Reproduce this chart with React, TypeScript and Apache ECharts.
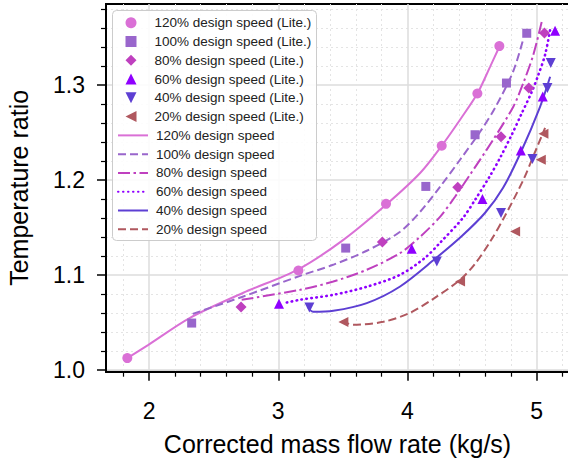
import React, { useEffect, useRef } from "react";
import * as echarts from "echarts";

// ---- axis ticks ----
const xMajorTicks = [2, 3, 4, 5];
const xMinorTicks = [1.8, 2.2, 2.4, 2.6, 2.8, 3.2, 3.4, 3.6, 3.8, 4.2, 4.4, 4.6, 4.8, 5.2];
const yMajorTicks = [1.0, 1.1, 1.2, 1.3];
const yMinorTicks = [1.02, 1.04, 1.06, 1.08, 1.12, 1.14, 1.16, 1.18, 1.22, 1.24, 1.26, 1.28, 1.32, 1.34, 1.36, 1.38];

// ---- measured points (Lite.) ----
const x120Pts = [1.832, 3.156, 3.834, 4.265, 4.541, 4.711];
const y120Pts = [1.0123, 1.1045, 1.1747, 1.2358, 1.2908, 1.3407];
const x100Pts = [2.33, 3.522, 4.142, 4.523, 4.766, 4.923];
const y100Pts = [1.0492, 1.1281, 1.193, 1.2474, 1.3018, 1.3542];
const x80Pts = [2.712, 3.806, 4.389, 4.724, 4.939, 5.06];
const y80Pts = [1.066, 1.1344, 1.192, 1.2453, 1.2965, 1.3544];
const x60Pts = [3.006, 4.033, 4.58, 4.877, 5.047, 5.142];
const y60Pts = [1.0695, 1.1274, 1.1797, 1.2308, 1.2877, 1.3568];
const x40Pts = [3.241, 4.227, 4.724, 4.967, 5.083, 5.109];
const y40Pts = [1.0656, 1.114, 1.165, 1.2218, 1.2965, 1.3228];
const x20Pts = [3.504, 4.407, 4.833, 5.032, 5.052];
const y20Pts = [1.0502, 1.0929, 1.1456, 1.2211, 1.2484];

// ---- model curves ----
const x120Line = [1.832, 1.995, 2.317, 2.73, 3.156, 3.504, 3.834, 4.098, 4.265, 4.407, 4.541, 4.639, 4.711];
const y120Line = [1.0123, 1.0263, 1.0547, 1.0811, 1.1058, 1.1368, 1.1737, 1.2071, 1.2358, 1.2632, 1.2908, 1.3189, 1.34];
const x100Line = [2.338, 2.73, 3.169, 3.424, 3.685, 3.943, 4.098, 4.252, 4.407, 4.562, 4.678, 4.817, 4.895];
const y100Line = [1.0589, 1.0772, 1.0989, 1.1105, 1.1253, 1.1453, 1.1663, 1.1926, 1.2211, 1.2505, 1.2758, 1.3137, 1.3474];
const x80Line = [2.717, 3.169, 3.426, 3.685, 3.943, 4.098, 4.252, 4.368, 4.484, 4.663, 4.82, 4.897, 4.974, 5.039];
const y80Line = [1.0737, 1.0842, 1.0929, 1.1053, 1.1228, 1.14, 1.161, 1.1821, 1.2053, 1.2421, 1.2772, 1.3021, 1.3316, 1.3663];
const x60Line = [3.066, 3.169, 3.426, 3.685, 3.943, 4.136, 4.252, 4.43, 4.523, 4.639, 4.717, 4.807, 4.879, 4.962, 5.013, 5.065, 5.104];
const y60Line = [1.0708, 1.0737, 1.0789, 1.0874, 1.1, 1.1179, 1.1337, 1.16, 1.1789, 1.2042, 1.2232, 1.2474, 1.2684, 1.2926, 1.3105, 1.3316, 1.3579];
const x40Line = [3.227, 3.269, 3.426, 3.685, 3.943, 4.214, 4.423, 4.601, 4.74, 4.879, 5.026, 5.104];
const y40Line = [1.0663, 1.0611, 1.0621, 1.0702, 1.0877, 1.1168, 1.1411, 1.1653, 1.1916, 1.2295, 1.2768, 1.3084];
const x20Line = [3.491, 3.581, 3.813, 4.02, 4.2, 4.407, 4.523, 4.639, 4.755, 4.897, 4.972, 5.065];
const y20Line = [1.0516, 1.0474, 1.0505, 1.06, 1.0747, 1.0947, 1.1116, 1.1347, 1.1621, 1.2, 1.2242, 1.2547];

const speeds = ["120%", "100%", "80%", "60%", "40%", "20%"];
const colors = ["#DA70D6", "#9966CC", "#BF40BF", "#8F00FF", "#5D3FD3", "#B0585F"];
const symbols = ["circle", "rect", "diamond", "triangle", "triangle", "triangle"];
const symbolRotates = [0, 0, 0, 0, 180, 90];
const symbolSizes = [10, 9, 11, 10, 10, 10];
const legendIcons = [
  "path://M5,1A4.5,4.5,0,1,1,4.99,1Z",
  "path://M1,1L9.5,1L9.5,9.5L1,9.5Z",
  "path://M5.5,0L11,5.5L5.5,11L0,5.5Z",
  "path://M5,0L10,10L0,10Z",
  "path://M0,0L10,0L5,10Z",
  "path://M10,0L10,10L0,5Z",
];
const lineTypes: any[] = ["solid", [8, 4], [12, 3.5, 2.5, 3.5], [0.5, 4.5], "solid", [8, 4]];

const ptsX = [x120Pts, x100Pts, x80Pts, x60Pts, x40Pts, x20Pts];
const ptsY = [y120Pts, y100Pts, y80Pts, y60Pts, y40Pts, y20Pts];
const lineX = [x120Line, x100Line, x80Line, x60Line, x40Line, x20Line];
const lineY = [y120Line, y100Line, y80Line, y60Line, y40Line, y20Line];

const zip = (a: number[], b: number[]) => a.map((v, i) => [v, b[i]]);

const FONT = "Liberation Sans, Arial, Helvetica, sans-serif";

export default function App() {
  const ref = useRef<HTMLDivElement>(null);
  useEffect(() => {
    if (!ref.current) return;
    const chart = echarts.init(ref.current, null, { renderer: "svg" });
    const xMin = 1.667, xMax = 5.25, yMin = 0.998, yMax = 1.385;

    const scatterSeries = speeds.map((s, i) => ({
      type: "scatter",
      name: `${s} design speed (Lite.)`,
      data: zip(ptsX[i], ptsY[i]),
      symbol: symbols[i],
      symbolSize: symbolSizes[i],
      symbolRotate: symbolRotates[i],
      itemStyle: { color: colors[i], opacity: 1 },
      z: 4,
      silent: true,
    }));
    const lineSeries = speeds.map((s, i) => ({
      type: "line",
      name: `${s} design speed`,
      data: zip(lineX[i], lineY[i]),
      smooth: 0.3,
      symbol: "none",
      showSymbol: false,
      lineStyle: {
        color: colors[i],
        width: i === 3 ? 2.6 : 2,
        type: lineTypes[i],
        cap: i === 3 ? "round" : "butt",
      },
      itemStyle: { color: colors[i] },
      z: 3,
      silent: true,
    }));

    const rowStep = 18.78;
    const firstCenter = 22.7;
    const rowH = 14;

    chart.setOption({
      animation: false,
      textStyle: { fontFamily: FONT },
      grid: {
        left: 106,
        top: 4,
        width: 463,
        height: 367.7,
        show: true,
        borderColor: "#000",
        borderWidth: 2,
        backgroundColor: "#fff",
        outerBoundsMode: "none",
        containLabel: false,
      },
      graphic: [
        {
          type: "rect",
          z: 50,
          shape: { x: 112.5, y: 10.5, width: 204, height: 230, r: 4 },
          style: { fill: "rgba(255,255,255,0.88)", stroke: "#cccccc", lineWidth: 1 },
          silent: true,
        },
      ],
      legend: [
        {
          data: speeds.map((s, i) => ({ name: `${s} design speed (Lite.)`, icon: legendIcons[i] })),
          orient: "vertical",
          left: 125.5,
          top: firstCenter - rowH / 2,
          padding: 0,
          itemWidth: 11,
          itemHeight: 11,
          itemGap: rowStep - rowH,
          selectedMode: false,
          textStyle: { fontFamily: FONT, fontSize: 13.5, color: "#222", lineHeight: rowH, padding: [0, 0, 0, 13] },
          z: 60,
        },
        {
          data: speeds.map((s) => ({ name: `${s} design speed`, itemStyle: { opacity: 0 } })),
          orient: "vertical",
          left: 117,
          top: firstCenter + 6 * rowStep - rowH / 2,
          padding: 0,
          itemWidth: 30,
          itemHeight: 12,
          itemGap: rowStep - rowH,
          selectedMode: false,
          textStyle: { fontFamily: FONT, fontSize: 13.5, color: "#222", lineHeight: rowH, padding: [0, 0, 0, 3] },
          z: 60,
        },
      ],
      xAxis: [
        {
          type: "value",
          min: xMin,
          max: xMax,
          position: "bottom",
          axisLine: { show: true, onZero: false, lineStyle: { color: "#000", width: 2 } },
          axisTick: { show: true, length: 9, customValues: xMajorTicks, lineStyle: { color: "#000", width: 1.5 } },
          axisLabel: {
            customValues: xMajorTicks,
            margin: 28,
            fontSize: 23,
            color: "#000",
            fontFamily: FONT,
            formatter: (v: number) => String(v),
          },
          splitLine: { show: true, lineStyle: { color: "#dcdcdc", width: 1.5 } },
          name: "Corrected mass flow rate (kg/s)",
          nameLocation: "middle",
          nameGap: 60,
          nameTextStyle: { fontSize: 25, color: "#000", fontFamily: FONT },
        },
        {
          type: "value",
          min: xMin,
          max: xMax,
          position: "bottom",
          splitNumber: 18,
          axisLine: { show: false, onZero: false },
          axisTick: { show: true, length: 5, customValues: xMinorTicks, lineStyle: { color: "#000", width: 1.2 } },
          axisLabel: { show: false },
          splitLine: { show: true, lineStyle: { color: "#e4e4e4", width: 1, type: [2, 3] } },
        },
      ],
      yAxis: [
        {
          type: "value",
          min: yMin,
          max: yMax,
          position: "left",
          axisLine: { show: true, onZero: false, lineStyle: { color: "#000", width: 2 } },
          axisTick: { show: true, length: 9, customValues: yMajorTicks, lineStyle: { color: "#000", width: 1.5 } },
          axisLabel: {
            customValues: yMajorTicks,
            margin: 21,
            fontSize: 23,
            color: "#000",
            fontFamily: FONT,
            formatter: (v: number) => v.toFixed(1),
          },
          splitLine: { show: true, lineStyle: { color: "#dcdcdc", width: 1.5 } },
          name: "Temperature ratio",
          nameLocation: "middle",
          nameGap: 75,
          nameTextStyle: { fontSize: 25, color: "#000", fontFamily: FONT },
        },
        {
          type: "value",
          min: yMin,
          max: yMax,
          position: "left",
          splitNumber: 20,
          axisLine: { show: false, onZero: false },
          axisTick: { show: true, length: 5, customValues: yMinorTicks, lineStyle: { color: "#000", width: 1.2 } },
          axisLabel: { show: false },
          splitLine: { show: true, lineStyle: { color: "#e4e4e4", width: 1, type: [2, 3] } },
        },
      ],
      series: [...lineSeries, ...scatterSeries],
    });
    return () => chart.dispose();
  }, []);
  return (
    <div
      ref={ref}
      style={{ position: "fixed", left: 0, top: 0, width: 568, height: 462, background: "#fff" }}
    />
  );
}
